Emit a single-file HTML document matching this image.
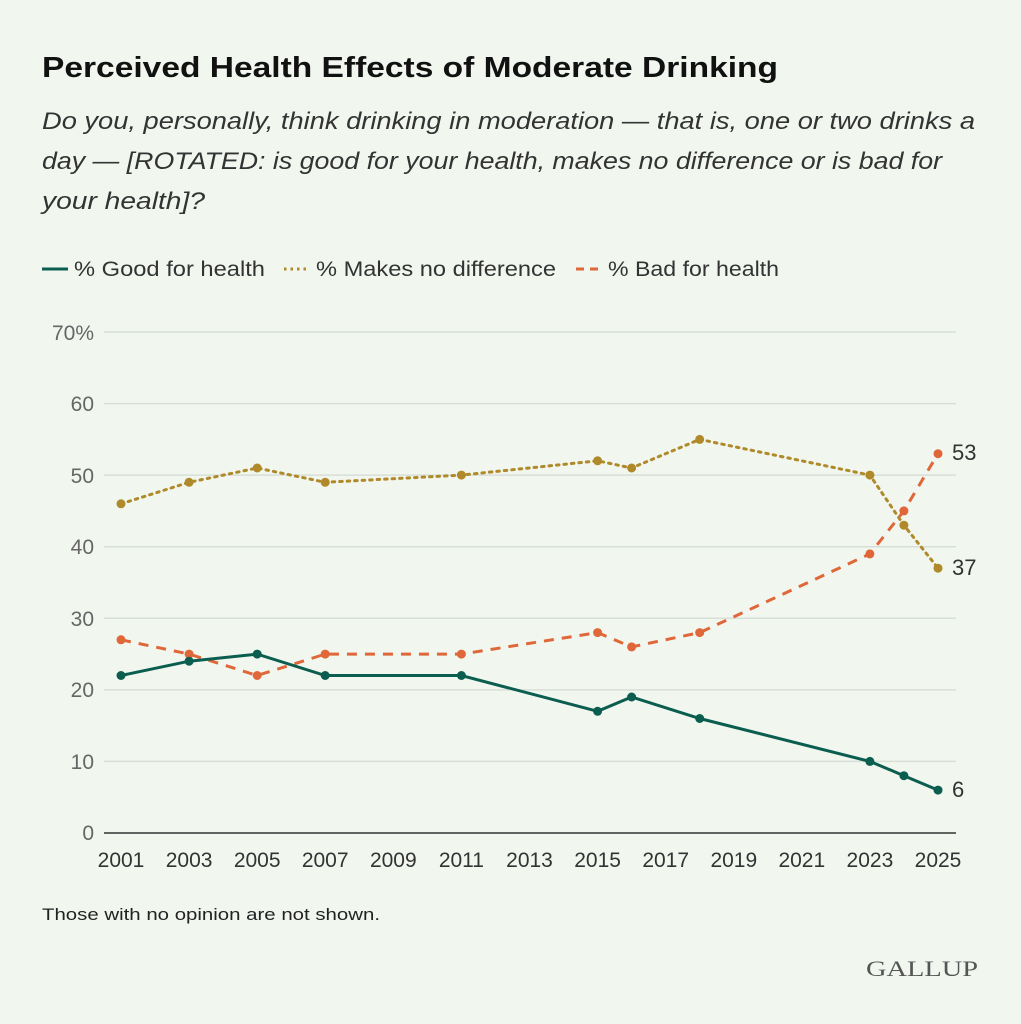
<!DOCTYPE html>
<html><head><meta charset="utf-8"><style>
body{margin:0;background:#f1f7ef;}
svg{display:block;font-family:"Liberation Sans",sans-serif;}
</style></head><body>
<svg width="1021" height="1024" viewBox="0 0 1021 1024">
<rect width="1021" height="1024" fill="#f1f7ef"/>
<text x="42" y="77" font-size="29" font-weight="bold" fill="#111" textLength="736" lengthAdjust="spacingAndGlyphs">Perceived Health Effects of Moderate Drinking</text>
<g font-size="24" font-style="italic" fill="#333">
<text x="42" y="129" textLength="933" lengthAdjust="spacingAndGlyphs">Do you, personally, think drinking in moderation — that is, one or two drinks a</text>
<text x="42" y="169" textLength="900" lengthAdjust="spacingAndGlyphs">day — [ROTATED: is good for your health, makes no difference or is bad for</text>
<text x="42" y="209" textLength="163" lengthAdjust="spacingAndGlyphs">your health]?</text>
</g>
<g font-size="21" fill="#333">
<line x1="42" y1="269" x2="68" y2="269" stroke="#0b5e4f" stroke-width="3"/>
<text x="74" y="276" textLength="191" lengthAdjust="spacingAndGlyphs">% Good for health</text>
<line x1="284" y1="269" x2="310" y2="269" stroke="#b08a2a" stroke-width="3" stroke-dasharray="2.5,4"/>
<text x="316" y="276" textLength="240" lengthAdjust="spacingAndGlyphs">% Makes no difference</text>
<line x1="576" y1="269" x2="602" y2="269" stroke="#e0673a" stroke-width="3" stroke-dasharray="8,6"/>
<text x="608" y="276" textLength="171" lengthAdjust="spacingAndGlyphs">% Bad for health</text>
</g>
<g stroke="#d8dfd8" stroke-width="1.5">
<line x1="104" y1="332" x2="956" y2="332"/>
<line x1="104" y1="403.6" x2="956" y2="403.6"/>
<line x1="104" y1="475.1" x2="956" y2="475.1"/>
<line x1="104" y1="546.7" x2="956" y2="546.7"/>
<line x1="104" y1="618.3" x2="956" y2="618.3"/>
<line x1="104" y1="689.9" x2="956" y2="689.9"/>
<line x1="104" y1="761.4" x2="956" y2="761.4"/>
</g>
<line x1="104" y1="833" x2="956" y2="833" stroke="#333" stroke-width="1.5"/>
<g font-size="21" fill="#666" text-anchor="end">
<text x="94" y="340">70%</text><text x="94" y="411">60</text><text x="94" y="483">50</text>
<text x="94" y="554">40</text><text x="94" y="626">30</text><text x="94" y="697">20</text>
<text x="94" y="769">10</text><text x="94" y="840">0</text>
</g>
<g font-size="21" fill="#333" text-anchor="middle">
<text x="121" y="867">2001</text><text x="189.1" y="867">2003</text><text x="257.2" y="867">2005</text>
<text x="325.2" y="867">2007</text><text x="393.3" y="867">2009</text><text x="461.4" y="867">2011</text>
<text x="529.5" y="867">2013</text><text x="597.6" y="867">2015</text><text x="665.7" y="867">2017</text>
<text x="733.8" y="867">2019</text><text x="801.8" y="867">2021</text><text x="869.9" y="867">2023</text>
<text x="938" y="867">2025</text>
</g>
<polyline fill="none" stroke="#b08a2a" stroke-width="3" stroke-dasharray="2.5,5" stroke-linecap="round" points="121,503.8 189.1,482.3 257.2,468 325.2,482.3 461.4,475.1 597.6,460.8 631.6,468 699.7,439.4 869.9,475.1 903.9,525.2 938,568.2"/>
<polyline fill="none" stroke="#e0673a" stroke-width="3" stroke-dasharray="10,8" points="121,639.8 189.1,654.1 257.2,675.5 325.2,654.1 461.4,654.1 597.6,632.6 631.6,646.9 699.7,632.6 869.9,553.9 903.9,510.9 938,453.7"/>
<polyline fill="none" stroke="#0b5e4f" stroke-width="3" points="121,675.5 189.1,661.2 257.2,654.1 325.2,675.5 461.4,675.5 597.6,711.3 631.6,697 699.7,718.5 869.9,761.4 903.9,775.7 938,790.1"/>
<g fill="#b08a2a">
<circle cx="121" cy="503.8" r="4.5"/><circle cx="189.1" cy="482.3" r="4.5"/><circle cx="257.2" cy="468" r="4.5"/><circle cx="325.2" cy="482.3" r="4.5"/><circle cx="461.4" cy="475.1" r="4.5"/><circle cx="597.6" cy="460.8" r="4.5"/><circle cx="631.6" cy="468" r="4.5"/><circle cx="699.7" cy="439.4" r="4.5"/><circle cx="869.9" cy="475.1" r="4.5"/><circle cx="903.9" cy="525.2" r="4.5"/><circle cx="938" cy="568.2" r="4.5"/>
</g>
<g fill="#e0673a">
<circle cx="121" cy="639.8" r="4.5"/><circle cx="189.1" cy="654.1" r="4.5"/><circle cx="257.2" cy="675.5" r="4.5"/><circle cx="325.2" cy="654.1" r="4.5"/><circle cx="461.4" cy="654.1" r="4.5"/><circle cx="597.6" cy="632.6" r="4.5"/><circle cx="631.6" cy="646.9" r="4.5"/><circle cx="699.7" cy="632.6" r="4.5"/><circle cx="869.9" cy="553.9" r="4.5"/><circle cx="903.9" cy="510.9" r="4.5"/><circle cx="938" cy="453.7" r="4.5"/>
</g>
<g fill="#0b5e4f">
<circle cx="121" cy="675.5" r="4.5"/><circle cx="189.1" cy="661.2" r="4.5"/><circle cx="257.2" cy="654.1" r="4.5"/><circle cx="325.2" cy="675.5" r="4.5"/><circle cx="461.4" cy="675.5" r="4.5"/><circle cx="597.6" cy="711.3" r="4.5"/><circle cx="631.6" cy="697" r="4.5"/><circle cx="699.7" cy="718.5" r="4.5"/><circle cx="869.9" cy="761.4" r="4.5"/><circle cx="903.9" cy="775.7" r="4.5"/><circle cx="938" cy="790.1" r="4.5"/>
</g>
<g font-size="22" fill="#333">
<text x="952" y="460">53</text><text x="952" y="575">37</text><text x="952" y="797">6</text>
</g>
<text x="42" y="920" font-size="17" fill="#222" textLength="338" lengthAdjust="spacingAndGlyphs">Those with no opinion are not shown.</text>
<text x="978" y="976" font-size="22" fill="#555" text-anchor="end" font-family="Liberation Serif,serif" textLength="112" lengthAdjust="spacingAndGlyphs">GALLUP</text>
</svg>
</body></html>
